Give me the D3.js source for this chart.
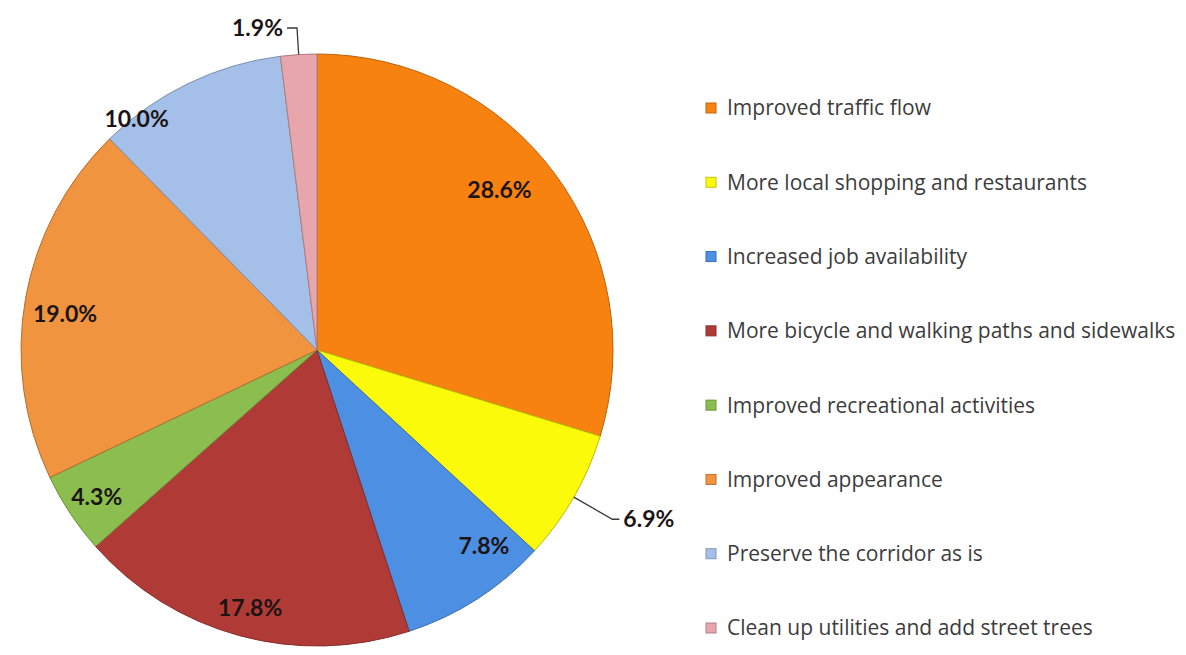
<!DOCTYPE html>
<html>
<head>
<meta charset="utf-8">
<script src="https://cdn.jsdelivr.net/npm/d3@7"></script>
<style>
  html, body { margin: 0; padding: 0; background: #ffffff; }
  svg { display: block; }
</style>
</head>
<body>
<svg id="chart" width="1186" height="655"></svg>
<script>
// ---- data ----
const categories = [
  "Improved traffic flow",
  "More local shopping and restaurants",
  "Increased job availability",
  "More bicycle and walking paths and sidewalks",
  "Improved recreational activities",
  "Improved appearance",
  "Preserve the corridor as is",
  "Clean up utilities and add street trees"
];
const values = [28.6, 6.9, 7.8, 17.8, 4.3, 19.0, 10.0, 1.9];
const valueLabels = ["28.6%", "6.9%", "7.8%", "17.8%", "4.3%", "19.0%", "10.0%", "1.9%"];

// ---- style / layout ----
const colors = ["#F7820F", "#FAFA0A", "#4C8FE3", "#B03B36", "#8BBE4F", "#F09440", "#A5C0E8", "#E7A5AC"];
// label placement per slice: inside labels -> radius fraction + angle shift (deg);
// outside labels -> elbow radius fraction, horizontal run direction
const labelLayout = [
  { type: "in", r: 0.82, shift: -4.7 },
  { type: "out", elbow: 1.15, dir: 1, run: 7 },
  { type: "in", r: 0.87, shift: -7.7 },
  { type: "in", r: 0.90, shift: -0.6 },
  { type: "in", r: 0.895, shift: -0.2 },
  { type: "in", r: 0.86, shift: -1.8 },
  { type: "in", r: 0.99, shift: -12.2 },
  { type: "out", elbow: 1.09, dir: -1, run: 10 }
];

const W = 1186, H = 655;
const cx = 317, cy = 350, R = 296;

const svg = d3.select("#chart");
const g = svg.append("g").attr("transform", `translate(${cx},${cy})`);

const pie = d3.pie().value(d => d).sort(null);
const arcs = pie(values);
const arc = d3.arc().innerRadius(0).outerRadius(R);

g.selectAll("path.slice")
  .data(arcs)
  .enter().append("path")
  .attr("class", "slice")
  .attr("d", arc)
  .attr("fill", (d, i) => colors[i])
  .attr("stroke", (d, i) => d3.color(colors[i]).darker(0.8))
  .attr("stroke-width", 1);

const labelFont = "Lato, 'Open Sans', sans-serif";
const labelSize = 23;
const rad = deg => deg * Math.PI / 180;
const polar = (angle, r) => [r * Math.sin(angle), -r * Math.cos(angle)];

arcs.forEach((d, i) => {
  const L = labelLayout[i];
  const mid = (d.startAngle + d.endAngle) / 2;
  if (L.type === "in") {
    const [x, y] = polar(mid + rad(L.shift), R * L.r);
    g.append("text")
      .attr("x", x).attr("y", y)
      .attr("dy", "0.35em")
      .attr("text-anchor", "middle")
      .attr("font-family", labelFont)
      .attr("font-weight", "bold")
      .attr("font-size", labelSize)
      .attr("fill", "#1c1414")
      .text(valueLabels[i]);
  } else {
    const p0 = polar(mid, R);
    const p1 = polar(mid, R * L.elbow);
    const p2 = [p1[0] + L.dir * L.run, p1[1]];
    g.append("polyline")
      .attr("points", [p0, p1, p2].map(p => p.join(",")).join(" "))
      .attr("fill", "none")
      .attr("stroke", "#3a3a3a")
      .attr("stroke-width", 1.3);
    g.append("text")
      .attr("x", p2[0] + L.dir * 4).attr("y", p2[1])
      .attr("dy", "0.35em")
      .attr("text-anchor", L.dir > 0 ? "start" : "end")
      .attr("font-family", labelFont)
      .attr("font-weight", "bold")
      .attr("font-size", labelSize)
      .attr("fill", "#1c1414")
      .text(valueLabels[i]);
  }
});

// ---- legend ----
const legendY = d3.scalePoint().domain(categories).range([108, 628]);
const legend = svg.append("g");
const items = legend.selectAll("g.item")
  .data(categories)
  .enter().append("g")
  .attr("class", "item")
  .attr("transform", d => `translate(706,${legendY(d)})`);
items.append("rect")
  .attr("x", 0).attr("y", -5)
  .attr("width", 10).attr("height", 10)
  .attr("fill", (d, i) => colors[i])
  .attr("stroke", (d, i) => d3.color(colors[i]).darker(0.7))
  .attr("stroke-width", 1);
items.append("text")
  .attr("x", 21).attr("y", 0)
  .attr("dy", "0.35em")
  .attr("font-family", "'Open Sans', Lato, sans-serif")
  .attr("font-size", 21)
  .attr("fill", "#3c3c3c")
  .text(d => d);
</script>
</body>
</html>
